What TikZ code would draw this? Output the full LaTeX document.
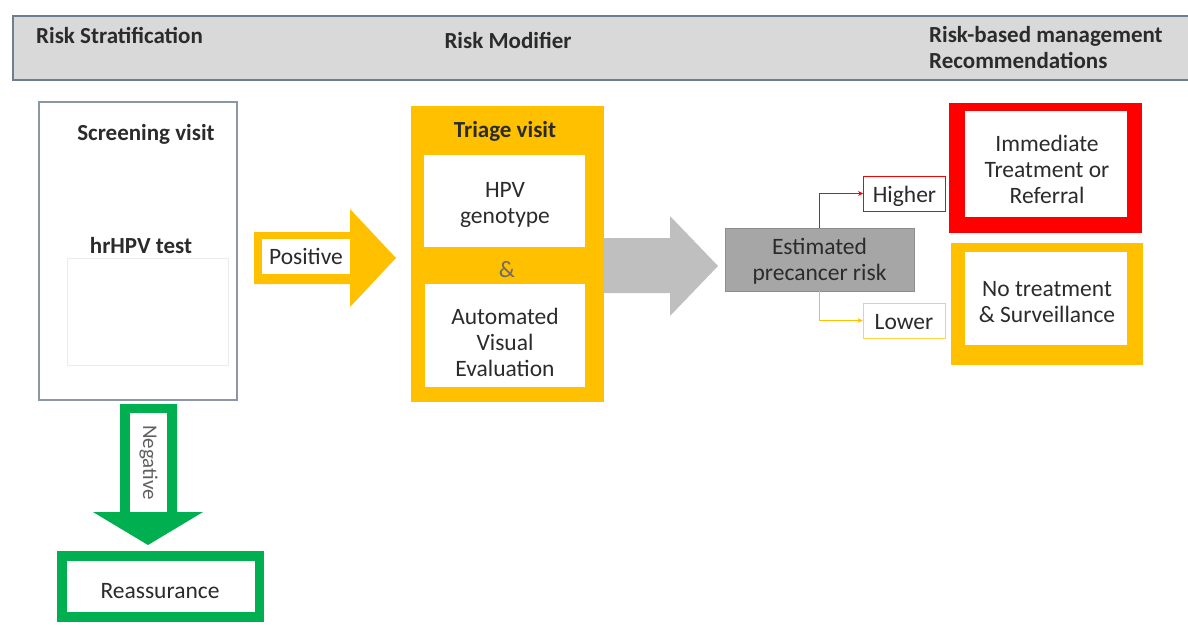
\documentclass[tikz,border=0pt]{standalone}
\usepackage{fontspec}
\setmainfont{Carlito}
\usetikzlibrary{arrows.meta}
\definecolor{amber}{HTML}{FFC000}
\definecolor{riskred}{HTML}{FF0000}
\definecolor{okgreen}{HTML}{00B050}
\definecolor{bandgray}{HTML}{D9D9D9}
\definecolor{bandline}{HTML}{6F7D90}
\definecolor{arrowgray}{HTML}{BFBFBF}
\definecolor{estgray}{HTML}{A6A6A6}
\definecolor{ink}{HTML}{2B2B2B}
\begin{document}
\begin{tikzpicture}[x=1pt,y=-1pt,
	every node/.style={inner sep=0,align=center,text=ink,font=\fontsize{23.5}{26}\selectfont},
	title/.style={font=\fontsize{23}{26}\selectfont\bfseries},
	panel/.style 2 args={minimum width=#1,minimum height=#2},
	tag/.style={draw,line width=0.8,fill=white,minimum width=82,minimum height=35}]
\useasboundingbox (0,0) rectangle (1188,624);
% header band
\node[fill=bandgray,draw=bandline,line width=1.5,panel={1190}{64}] (band) at (608,48) {};
\node[title,anchor=west] (strat) at (36,35) {Risk Stratification};
\node[title] (modif) at (508,40) {Risk Modifier};
\node[title,anchor=west,align=left] (recom) at (929,48) {Risk-based management\\Recommendations};
% screening
\node[draw=bandline!80,line width=1.2,panel={198}{298}] (scr) at (138,251) {};
\node[title] (scrv) at (146,134) {Screening visit};
\node[title] (hpvt) at (141,246) {hrHPV test};
\node[draw=black!8,panel={161}{107}] (blank) at (147.5,311.5) {};
\fill[amber] (254,232) -- (350,232) -- (350,209) -- (396,258) -- (350,307) -- (350,284) -- (254,284) -- cycle;
\node[fill=white,panel={88}{35}] (pos) at (306,256) {Positive};
% triage
\node[fill=amber,panel={193}{296}] (tri) at (507.5,254) {};
\node[title] (triv) at (505,131) {Triage visit};
\node[fill=white,panel={161}{92}] (geno) at (504.5,201) {};
\node (genot) at (505,205) {HPV\\genotype};
\node[text=ink!70] (amp) at (507,270) {\&};
\node[fill=white,panel={160}{103}] (ave) at (505,335.5) {};
\node (avet) at (505,342) {Automated\\Visual\\Evaluation};
\fill[arrowgray] (604,238) -- (670,238) -- (670,216) -- (718,266) -- (670,316) -- (670,293) -- (604,293) -- cycle;
% risk estimate
\node[fill=estgray,draw=estgray!85!black,line width=0.8,panel={189}{63}] (est) at (819.5,259.5) {};
\node (estt) at (819.5,261.5) {Estimated\\precancer risk};
\node[tag,draw=riskred] (hi) at (904.5,193.5) {};
\node (hit) at (904.5,196) {Higher};
\node[tag,draw=amber!70] (lo) at (904,320.5) {};
\node (lot) at (904,322.5) {Lower};
\draw[riskred,line width=0.8,-{Stealth[length=5,width=5]}] (est.north) |- (hi.west);
\draw[amber,line width=0.8,-{Stealth[length=5,width=5]}] (est.south) |- (lo.west);
% recommendations
\node[fill=riskred,panel={193}{130}] (imm) at (1045.5,168) {};
\node[fill=white,panel={162}{106}] (immin) at (1046,164) {};
\node (immt) at (1047,169) {Immediate\\Treatment or\\Referral};
\node[fill=amber,panel={192}{122}] (surv) at (1047,304) {};
\node[fill=white,panel={162}{93}] (survin) at (1046,298.5) {};
\node (survt) at (1047,302.5) {No treatment\\\& Surveillance};
% negative
\fill[okgreen] (120,404) -- (177,404) -- (177,512) -- (203,512) -- (148,545) -- (93,512) -- (120,512) -- cycle;
\node[fill=white,rotate=-90,text=ink!75,font=\fontsize{21}{24}\selectfont,panel={99}{37}] (neg) at (148.5,462.5) {Negative};
\node[fill=okgreen,panel={207}{71}] (reas) at (160.5,586.5) {};
\node[fill=white,panel={188}{51}] (reasin) at (161,586.5) {};
\node (reast) at (160,591) {Reassurance};
\end{tikzpicture}
\end{document}
